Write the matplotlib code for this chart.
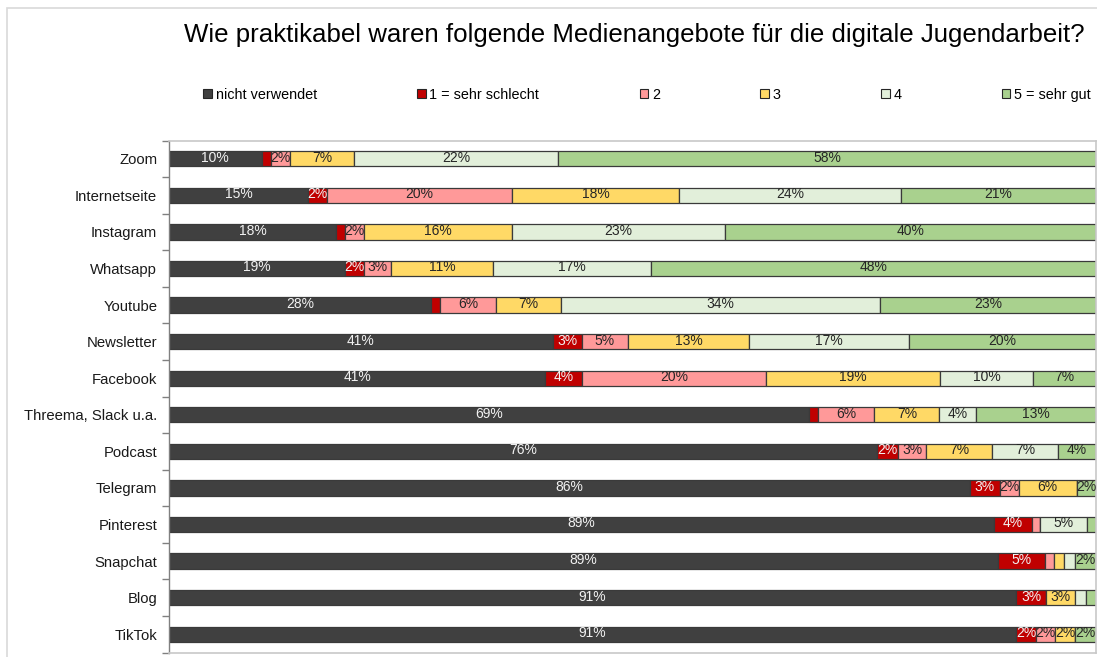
import matplotlib
matplotlib.use("Agg")
import matplotlib.pyplot as plt
from matplotlib.patches import Patch, Rectangle
import numpy as np

plt.rcParams['font.family'] = ['Liberation Sans', 'DejaVu Sans']

categories = ["Zoom", "Internetseite", "Instagram", "Whatsapp", "Youtube", "Newsletter",
              "Facebook", "Threema, Slack u.a.", "Podcast", "Telegram", "Pinterest",
              "Snapchat", "Blog", "TikTok"]
series_names = ["nicht verwendet", "1 = sehr schlecht", "2", "3", "4", "5 = sehr gut"]

nicht_verwendet = [10, 15, 18, 19, 28.3, 41.4, 40.6, 69.0, 76.4, 86.4, 89.0, 89.4, 91.4, 91.4]
sehr_schlecht   = [1, 2, 1, 2, 0.9, 3.1, 4.0, 1.0, 2.2, 3.2, 4.1, 5.1, 3.2, 2.1]
note_2          = [2, 20, 2, 3, 6.1, 5.0, 19.8, 6.1, 3.1, 2.1, 0.9, 1.0, 0, 2.1]
note_3          = [7, 18, 16, 11, 7.0, 13.1, 18.8, 7.0, 7.1, 6.2, 0, 1.1, 3.1, 2.1]
note_4          = [22, 24, 23, 17, 34.4, 17.2, 10.0, 4.0, 7.1, 0, 5.0, 1.1, 1.2, 0]
sehr_gut        = [58, 21, 40, 48, 23.3, 20.2, 6.8, 12.9, 4.1, 2.1, 1.0, 2.3, 1.1, 2.3]

series = [nicht_verwendet, sehr_schlecht, note_2, note_3, note_4, sehr_gut]
colors = ["#404040", "#C00000", "#FF9999", "#FFD966", "#E2EFDA", "#A9D18E"]
text_colors = ["#F2F2F2", "#F2F2F2", "#262626", "#262626", "#262626", "#262626"]

fig = plt.figure(figsize=(10.97, 6.57), dpi=100)
# outer chart frame
fig.patches.append(Rectangle((7/1097, -0.1), 1.2, (657-8)/657 + 0.1, transform=fig.transFigure,
                             fill=False, edgecolor="#D9D9D9", linewidth=1.2))

ax = fig.add_axes([169/1097, 1 - 652.5/657, (1096 - 169)/1097, (652.5 - 140.5)/657])

y = np.arange(len(categories))
left = np.zeros(len(categories))
for vals, col, tcol in zip(series, colors, text_colors):
    vals = np.array(vals, dtype=float)
    ax.barh(y, vals, left=left, height=0.42, color=col,
            edgecolor="#3A3A3A", linewidth=0.9)
    for yi, (l, v) in enumerate(zip(left, vals)):
        if v >= 1.5:
            ax.text(l + v / 2, yi - 0.03, f"{round(v):.0f}%", ha="center", va="center",
                    fontsize=10, color=tcol)
    left += vals

ax.set_xlim(0, 100)
ax.set_ylim(len(categories) - 0.5, -0.5)
ax.set_xticks([])
ax.set_yticks(y)
ax.set_yticklabels(categories, fontsize=10.7, color="#1A1A1A")
ax.tick_params(axis="y", length=0, pad=8.5)
ax.set_yticks(np.arange(-0.5, len(categories), 1.0), minor=True)
ax.tick_params(axis="y", which="minor", length=5, width=1, color="#808080", direction="out")
for s in ["top", "right", "bottom"]:
    ax.spines[s].set_color("#C8C8C8")
    ax.spines[s].set_linewidth(1.2)
ax.spines["left"].set_color("#808080")
ax.spines["left"].set_linewidth(1.0)

fig.text(634/1097, 1 - 35/657, "Wie praktikabel waren folgende Medienangebote für die digitale Jugendarbeit?",
         ha="center", va="center", fontsize=18.6, color="#000000")

handles = [Patch(facecolor=c, edgecolor="#262626", linewidth=0.8) for c in colors]
fig.legend(handles, series_names, loc="center", bbox_to_anchor=(647/1097, 1 - 95/657),
           ncol=6, frameon=False, fontsize=10.4, handlelength=0.6, handleheight=0.6,
           handletextpad=0.25, columnspacing=6.95)

fig.savefig("out.png", dpi=100)
